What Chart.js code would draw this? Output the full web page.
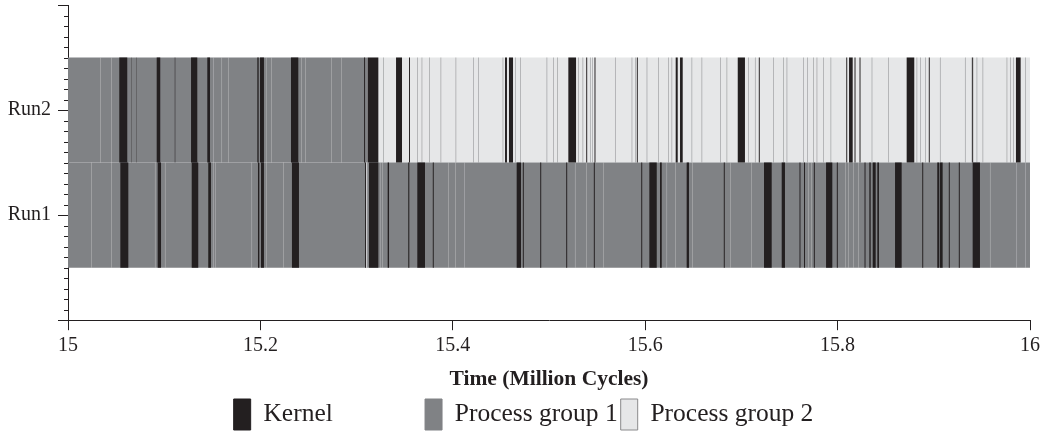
<!DOCTYPE html>
<html>
<head>
<meta charset="utf-8">
<script src="https://cdn.jsdelivr.net/npm/chart.js@4"></script>
<style>
  body { margin: 0; background: #fff; }
</style>
</head>
<body>
<canvas id="chart" width="1042" height="431"></canvas>
<script>
// y axis rows (top to bottom), first and last are empty padding rows
const yLabels = ['', 'Run2', 'Run1', ''];
const xMin = 15, xMax = 16, xStep = 0.2;

// Run2 segments, in million cycles
const run2Kernel = [[15.0533,15.0616],[15.0662,15.0665],[15.0707,15.0710],[15.0922,15.0959],[15.1110,15.1115],
  [15.1279,15.1344],[15.1448,15.1476],[15.1968,15.1982],[15.1996,15.2037],[15.2318,15.2394],[15.3078,15.3088],
  [15.3115,15.3226],[15.3410,15.3472],[15.3545,15.3555],[15.4543,15.4563],[15.4584,15.4626],[15.5201,15.5281],
  [15.5387,15.5397],[15.5473,15.5483],[15.5913,15.5923],[15.6317,15.6338],[15.6362,15.6390],[15.6962,15.7037],
  [15.7181,15.7191],[15.8090,15.8100],[15.8119,15.8157],[15.8176,15.8186],[15.8228,15.8238],[15.8718,15.8797],
  [15.8948,15.8958],[15.9399,15.9409],[15.9854,15.9903]];
const run2Group1 = [[15.0, 15.3115]];
const run2Group2 = [[15.3115, 16.0]];
const run2Group1Thin = [[15.3278,15.3283],[15.3631,15.3636],[15.3677,15.3682],[15.3753,15.3758],[15.3874,15.3879],
  [15.4030,15.4035],[15.4213,15.4218],[15.4265,15.4270],[15.4519,15.4524],[15.4647,15.4652],[15.4699,15.4704],
  [15.4976,15.4981],[15.5045,15.5050],[15.5086,15.5091],[15.5305,15.5310],[15.5350,15.5355],[15.5426,15.5431],
  [15.5450,15.5455],[15.5686,15.5691],[15.5860,15.5865],[15.5894,15.5899],[15.6016,15.6021],[15.6136,15.6141],
  [15.6240,15.6245],[15.6275,15.6280],[15.6483,15.6488],[15.6587,15.6592],[15.6778,15.6783],[15.6847,15.6852],
  [15.7072,15.7077],[15.7141,15.7146],[15.7332,15.7337],[15.7436,15.7441],[15.7471,15.7476],[15.7644,15.7649],
  [15.7685,15.7690],[15.7747,15.7752],[15.7783,15.7788],[15.7851,15.7856],[15.7928,15.7933],[15.8355,15.8360],
  [15.8527,15.8532],[15.8822,15.8827],[15.8857,15.8862],[15.8909,15.8914],[15.9064,15.9069],[15.9324,15.9329],
  [15.9394,15.9399],[15.9446,15.9451],[15.9508,15.9513],[15.9758,15.9763],[15.9792,15.9797],[15.9827,15.9832],
  [15.9948,15.9953]];
const run2Group2Thin = [[15.0333,15.0336],[15.0454,15.0457],[15.1510,15.1513],[15.1598,15.1601],[15.1666,15.1669],
  [15.2058,15.2061],[15.2117,15.2120],[15.2429,15.2432],[15.2464,15.2467],[15.2741,15.2744],[15.2845,15.2848]];

// Run1 segments
const run1Kernel = [[15.0544,15.0627],[15.0932,15.0967],[15.1286,15.1354],[15.1458,15.1486],[15.1975,15.1989],
  [15.2006,15.2037],[15.2328,15.2401],[15.3088,15.3098],[15.3129,15.3226],[15.3323,15.3337],[15.3537,15.3548],
  [15.3631,15.3711],[15.3792,15.3802],[15.4664,15.4709],[15.4728,15.4738],[15.4909,15.4919],[15.5179,15.5189],
  [15.5466,15.5476],[15.5959,15.5969],[15.6043,15.6120],[15.6154,15.6172],[15.6431,15.6455],[15.6817,15.6827],
  [15.7235,15.7315],[15.7419,15.7453],[15.7604,15.7614],[15.7651,15.7661],[15.7753,15.7763],[15.7880,15.7945],
  [15.7992,15.8002],[15.8280,15.8290],[15.8330,15.8344],[15.8365,15.8396],[15.8413,15.8430],[15.8597,15.8666],
  [15.8880,15.8890],[15.9036,15.9057],[15.9064,15.9092],[15.9156,15.9166],[15.9260,15.9270],[15.9404,15.9480]];
const run1Group1 = [[15.0, 16.0]];
const run1Group2Thin = [[15.0246,15.0249],[15.0454,15.0457],[15.0904,15.0907],[15.1008,15.1011],[15.1510,15.1513],
  [15.1528,15.1531],[15.1910,15.1913],[15.2065,15.2068],[15.2238,15.2241],[15.3100,15.3110],[15.3243,15.3246],
  [15.3271,15.3274],[15.3953,15.3956],[15.4023,15.4026],[15.4120,15.4123],[15.5270,15.5273],[15.5385,15.5388],
  [15.5565,15.5568],[15.6224,15.6227],[15.6310,15.6313],[15.6490,15.6493],[15.6882,15.6885],[15.7107,15.7110],
  [15.7696,15.7699],[15.7730,15.7733],[15.8077,15.8080],[15.8111,15.8114],[15.8163,15.8166],[15.8215,15.8218],
  [15.9584,15.9587],[15.9862,15.9865],[15.9948,15.9951]];

const ink = '#231f20';
const grey = '#808285';
const light = '#e6e7e8';
const serif = "'Liberation Serif', 'Times New Roman', serif";

function rows(run2, run1) {
  let out = [];
  run2.forEach(s => out.push({x: s, y: 'Run2'}));
  run1.forEach(s => out.push({x: s, y: 'Run1'}));
  return out;
}

const minorTicks = {
  id: 'minorTicks',
  afterDraw(chart) {
    const y = chart.scales.y;
    const ctx = chart.ctx;
    const right = chart.chartArea.left;
    ctx.save();
    ctx.strokeStyle = ink;
    ctx.lineWidth = 1;
    ctx.beginPath();
    for (let i = 1; i < 30; i++) {
      if (i % 10 === 0) continue;
      const py = Math.round(y.getPixelForValue(i / 10)) + 0.5;
      ctx.moveTo(right - 4, py);
      ctx.lineTo(right, py);
    }
    ctx.stroke();
    ctx.restore();
  }
};

const ctx = document.getElementById('chart');

new Chart(ctx, {
  type: 'bar',
  data: {
    datasets: [
      {label: 'Kernel', data: rows(run2Kernel, run1Kernel), backgroundColor: ink},
      {label: 'pg1thin', data: rows(run2Group1Thin, []), backgroundColor: grey},
      {label: 'pg2thin', data: rows(run2Group2Thin, run1Group2Thin), backgroundColor: light},
      {label: 'Process group 1', data: rows(run2Group1, run1Group1), backgroundColor: grey},
      {label: 'Process group 2', data: rows(run2Group2, []), backgroundColor: light}
    ]
  },
  options: {
    indexAxis: 'y',
    responsive: false,
    animation: false,
    devicePixelRatio: 1,
    grouped: false,
    categoryPercentage: 1,
    barPercentage: 1,
    borderWidth: 0,
    borderSkipped: false,
    inflateAmount: 0,
    layout: {padding: {top: 5, right: 12, left: 0, bottom: -9}},
    scales: {
      x: {
        type: 'linear',
        min: xMin,
        max: xMax,
        ticks: {stepSize: xStep, color: ink, padding: 4, font: {family: serif, size: 20},
          callback: v => String(Number(v.toFixed(1)))},
        grid: {drawOnChartArea: false, tickLength: 10, color: ink},
        border: {color: ink, width: 1},
        title: {display: true, text: 'Time (Million Cycles)', color: ink,
          font: {family: serif, size: 21.5, weight: 'bold'}, padding: {top: 4, bottom: 4}},
        afterFit(scale) {
          scale.paddingLeft = 0;
          scale.paddingRight = 0;
        }
      },
      y: {
        type: 'category',
        labels: yLabels,
        offset: false,
        ticks: {color: ink, padding: 7, font: {family: serif, size: 20}},
        grid: {drawOnChartArea: false, offset: false, tickLength: 10, color: ink},
        border: {color: ink, width: 1},
        afterFit(scale) {
          scale.width = 68;
          scale.paddingTop = 0;
          scale.paddingBottom = 0;
        }
      }
    },
    plugins: {
      tooltip: {enabled: false},
      legend: {
        position: 'bottom',
        fullSize: false,
        labels: {
          color: ink,
          font: {family: serif, size: 25.5},
          boxWidth: 17,
          boxHeight: 31,
          padding: 3,
          filter: item => item.text.indexOf('thin') < 0,
          generateLabels(chart) {
            const items = Chart.defaults.plugins.legend.labels.generateLabels(chart);
            items.forEach(it => {
              const name = it.text;
              if (name === 'Kernel') it.text = name + '\u00a0'.repeat(14);
              if (name === 'Process group 2') it.text = name + '\u00a0'.repeat(8);
              it.lineWidth = 1;
              it.strokeStyle = name === 'Process group 2' ? '#8a8a8c' : it.fillStyle;
            });
            return items;
          }
        }
      }
    }
  },
  plugins: [minorTicks]
});
</script>
</body>
</html>
